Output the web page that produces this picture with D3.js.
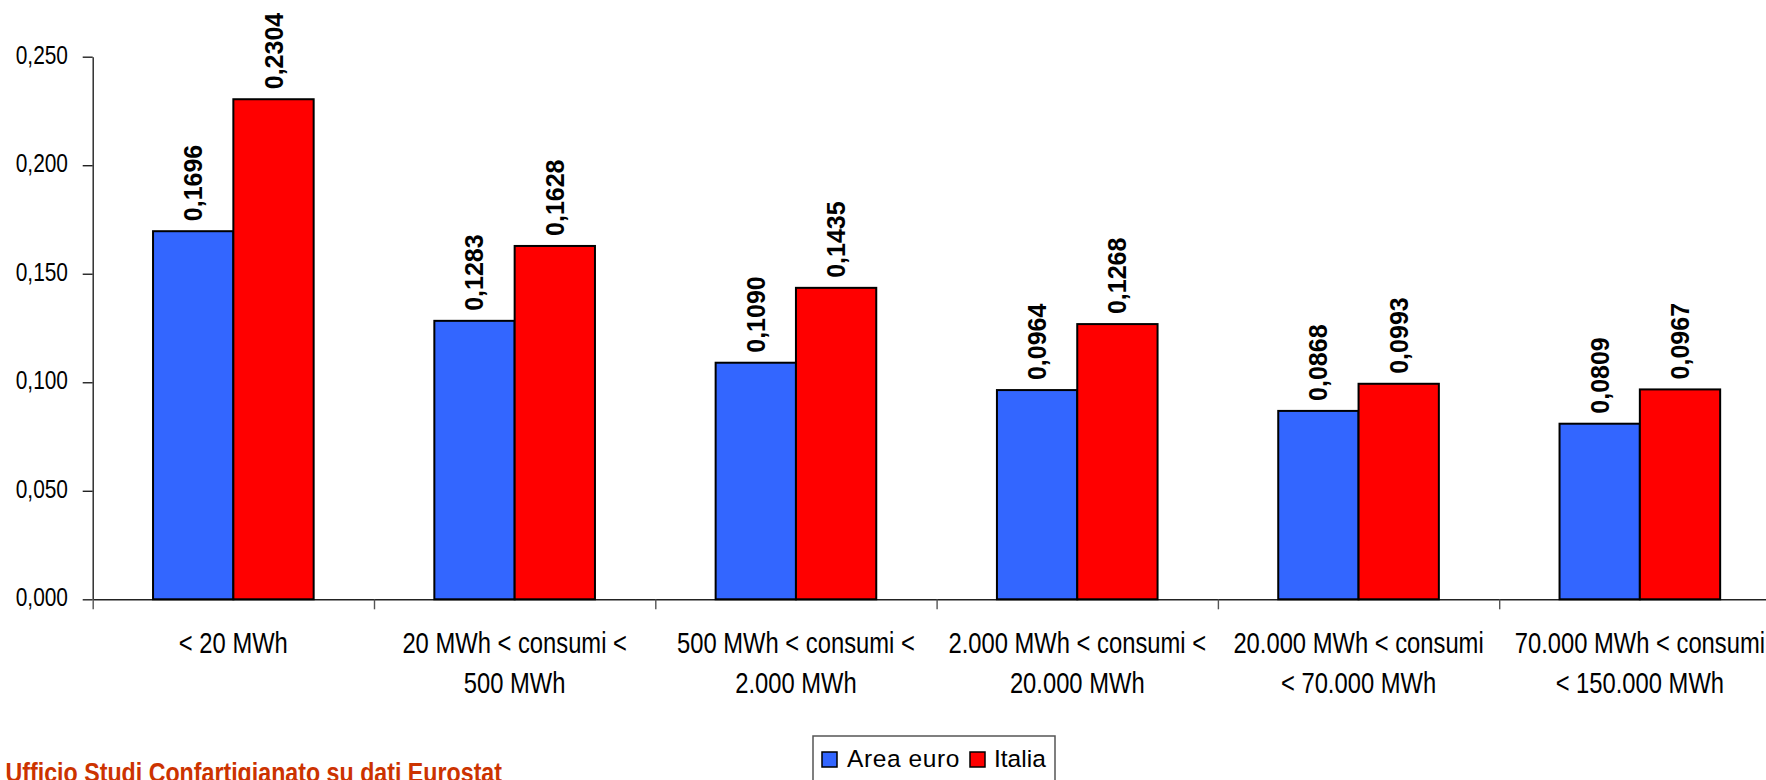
<!DOCTYPE html>
<html>
<head>
<meta charset="utf-8">
<script src="https://cdn.jsdelivr.net/npm/d3@7"></script>
<style>
  html, body { margin: 0; padding: 0; background: #fff; overflow: hidden; }
  svg { display: block; font-family: "Liberation Sans", Arial, sans-serif; }
</style>
</head>
<body>
<svg id="chart" width="1766" height="780"></svg>
<script>
// Fasce di consumo annuo (etichette su due righe separate da "\n")
const categories = [
  "< 20 MWh",
  "20 MWh < consumi <\n500 MWh",
  "500 MWh < consumi <\n2.000 MWh",
  "2.000 MWh < consumi <\n20.000 MWh",
  "20.000 MWh < consumi\n< 70.000 MWh",
  "70.000 MWh < consumi\n< 150.000 MWh"
];
const seriesNames = ["Area euro", "Italia"];
const areaEuro = [0.1696, 0.1283, 0.1090, 0.0964, 0.0868, 0.0809];
const italia   = [0.2304, 0.1628, 0.1435, 0.1268, 0.0993, 0.0967];
const yTicks = [0, 0.05, 0.10, 0.15, 0.20, 0.25];
const sourceNote = "Ufficio Studi Confartigianato su dati Eurostat";

const colors = { "Area euro": "#3366ff", "Italia": "#ff0000" };
const seriesValues = { "Area euro": areaEuro, "Italia": italia };

const svg = d3.select("#chart");

// Plot area
const x0 = 92.7, bandW = 281.3;
const yTop = 56.7, yBottom = 599.3;

const x = d3.scaleBand()
  .domain(categories)
  .range([x0, x0 + bandW * categories.length])
  .paddingInner(0).paddingOuter(0);

const xInner = d3.scaleBand()
  .domain(seriesNames)
  .range([bandW * 0.2145, bandW * 0.7855]);

const y = d3.scaleLinear().domain([0, 0.25]).range([yBottom, yTop]);

const fmtComma = (d, p) => d3.format("." + p + "f")(d).replace(".", ",");

// Y axis
const yAxis = svg.append("g")
  .attr("transform", `translate(${x0},0)`)
  .call(d3.axisLeft(y).tickValues(yTicks).tickSize(10).tickSizeOuter(0)
    .tickFormat(() => ""));
yAxis.select(".domain").attr("stroke", "#222").attr("stroke-width", 1.4);
yAxis.selectAll(".tick line").attr("stroke", "#222").attr("stroke-width", 1.4);

// Y tick labels (condensed type)
const yLab = svg.append("g");
yTicks.forEach(t => {
  yLab.append("g")
    .attr("transform", `translate(68,${y(t)}) scale(0.82,1)`)
    .append("text")
    .attr("text-anchor", "end")
    .attr("dy", "0.28em")
    .attr("font-size", 25.5)
    .attr("fill", "#000")
    .text(fmtComma(t, 3));
});

// X axis: ticks at category boundaries
const xb = d3.scaleLinear().domain([0, categories.length])
  .range([x0, x0 + bandW * categories.length]);
const xAxis = svg.append("g")
  .attr("transform", `translate(0,${yBottom})`)
  .call(d3.axisBottom(xb).tickValues(d3.range(categories.length + 1))
    .tickSize(10).tickSizeOuter(0).tickFormat(() => ""));
xAxis.select(".domain").attr("stroke", "#222").attr("stroke-width", 1.4);
xAxis.selectAll(".tick line").attr("stroke", "#555").attr("stroke-width", 1.4);

// Bars
const groups = svg.append("g").selectAll("g")
  .data(categories)
  .join("g")
  .attr("transform", d => `translate(${x(d)},0)`);

const barData = (c, i) => seriesNames.map(s => ({ s, v: seriesValues[s][i] }));

groups.selectAll("rect")
  .data(barData)
  .join("rect")
  .attr("x", d => xInner(d.s))
  .attr("width", xInner.bandwidth())
  .attr("y", d => y(d.v))
  .attr("height", d => y(0) - y(d.v))
  .attr("fill", d => colors[d.s])
  .attr("stroke", "#000")
  .attr("stroke-width", 2);

// Value labels, rotated
groups.selectAll("text.val")
  .data(barData)
  .join("text")
  .attr("class", "val")
  .attr("transform", d => `translate(${xInner(d.s) + xInner.bandwidth() / 2},${y(d.v) - 10}) rotate(-90)`)
  .attr("dy", "0.36em")
  .attr("text-anchor", "start")
  .attr("font-size", 25)
  .attr("font-weight", "bold")
  .attr("fill", "#000")
  .text(d => fmtComma(d.v, 4));

// Category labels (condensed, two lines)
categories.forEach(c => {
  const cx = x(c) + x.bandwidth() / 2;
  c.split("\n").forEach((line, k) => {
    svg.append("g")
      .attr("transform", `translate(${cx},${652.7 + k * 40}) scale(0.82,1)`)
      .append("text")
      .attr("text-anchor", "middle")
      .attr("font-size", 29)
      .attr("fill", "#000")
      .text(line);
  });
});

// Legend
const legend = svg.append("g");
legend.append("rect")
  .attr("x", 813).attr("y", 736)
  .attr("width", 242).attr("height", 70)
  .attr("fill", "#fff").attr("stroke", "#555").attr("stroke-width", 1.5);
const legendPos = [{ sx: 822, tx: 847 }, { sx: 970, tx: 994 }];
seriesNames.forEach((s, i) => {
  legend.append("rect")
    .attr("x", legendPos[i].sx).attr("y", 752)
    .attr("width", 15).attr("height", 15)
    .attr("fill", colors[s]).attr("stroke", "#000").attr("stroke-width", 1.5);
  legend.append("text")
    .attr("x", legendPos[i].tx).attr("y", 767)
    .attr("font-size", 24.5)
    .attr("letter-spacing", i === 0 ? "0.6px" : "0px")
    .attr("fill", "#000")
    .text(s);
});

// Source note, anchored at the lower-left corner
svg.append("g")
  .attr("transform", "translate(502,782) scale(0.86,1)")
  .append("text")
  .attr("text-anchor", "end")
  .attr("font-size", 27)
  .attr("font-weight", "bold")
  .attr("fill", "#cc3300")
  .text(sourceNote);
</script>
</body>
</html>
